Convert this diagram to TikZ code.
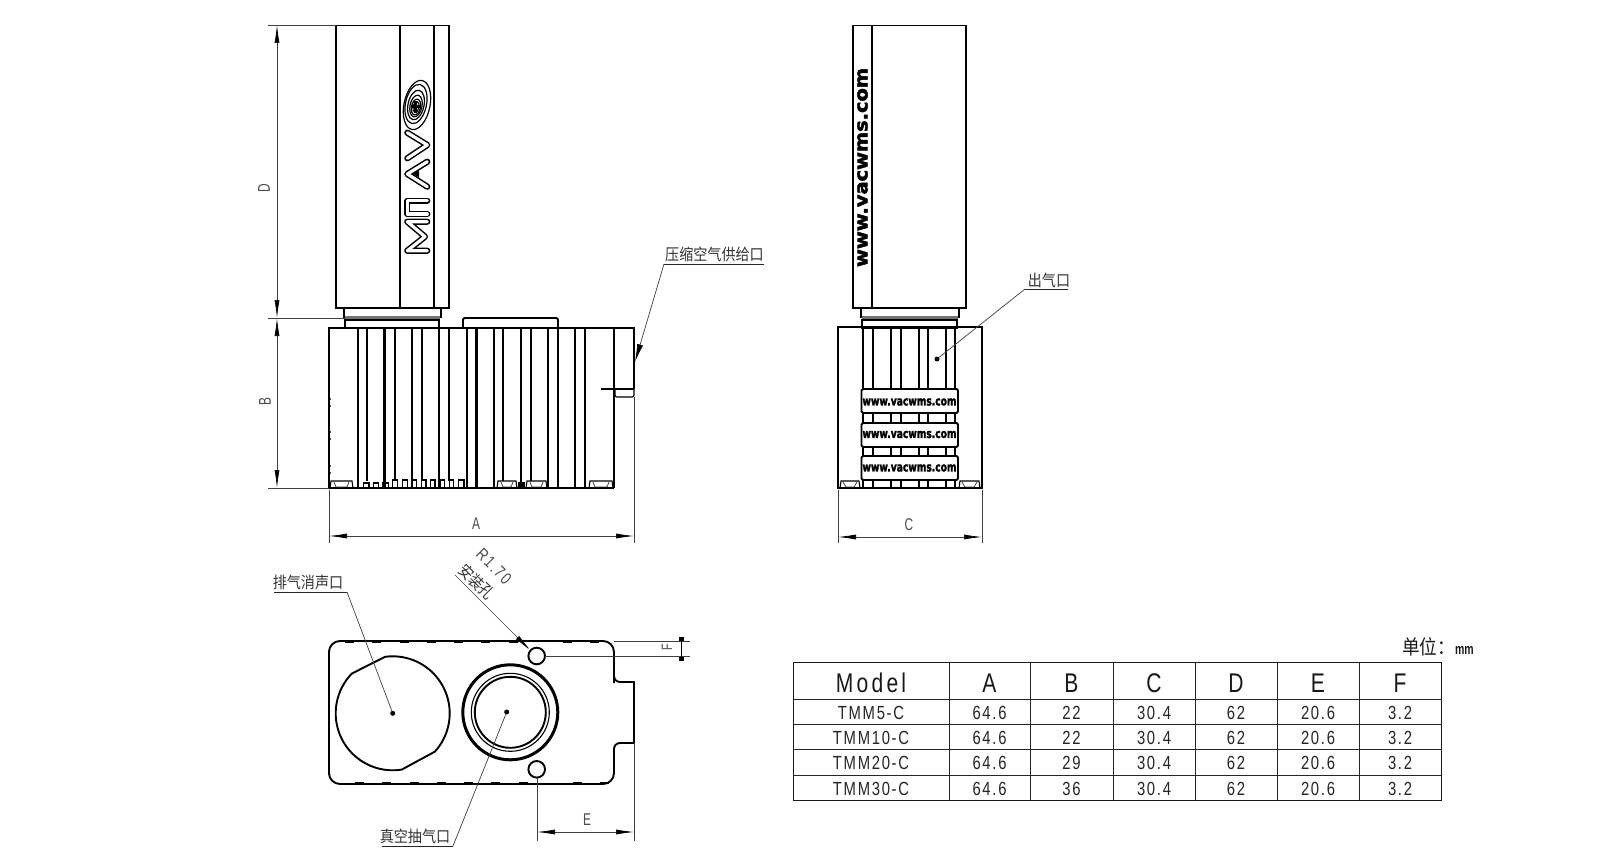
\documentclass[tikz,border=0pt]{standalone}
\usepackage{fontspec}
\usepackage{graphicx}
\usetikzlibrary{arrows.meta}
\setmainfont{Liberation Sans}
\newfontfamily\cjk[FakeStretch=0.88]{Noto Sans CJK SC}
\newfontfamily\tabfont[FakeStretch=0.78,LetterSpace=9]{Liberation Sans}
\newfontfamily\headfont[FakeStretch=0.78,LetterSpace=12]{Liberation Sans}
\newfontfamily\dimfont[FakeStretch=0.7]{Liberation Sans}
\newfontfamily\webfont[BoldFeatures={FakeBold=2.5}]{DejaVu Sans}
\newcommand\fs[1]{\fontsize{#1}{#1}\selectfont}
\newcommand\webtext[2]{\resizebox{#1pt}{#2pt}{\webfont\bfseries www.vacwms.com}}
\tikzset{
  ol/.style={line width=1.9pt,black},
  olthick/.style={line width=2.8pt,black},
  olthin/.style={line width=1.1pt,black},
  ext/.style={line width=.7pt,black!75},
  dimln/.style={line width=.7pt,black!75,{Latex[length=18pt,width=5pt,black]}-{Latex[length=18pt,width=5pt,black]}},
  lead/.style={line width=.7pt,black!75},
  under/.style={line width=1pt,black!85},
  dimlabel/.style={font=\dimfont\fs{17},text=black!70,inner sep=0pt},
  cjklabel/.style={font=\cjk\fs{16},text=black!80,inner sep=0pt},
  tabcell/.style={font=\tabfont\fs{19},text=black!85,inner sep=0pt},
  tabhead/.style={font=\headfont\fs{27},text=black!90,inner sep=0pt},
  dotn/.style={circle,fill=black,inner sep=0pt,minimum size=5pt},
  logo/.style={line width=1.2pt,black},
  logoletterA/.style={line width=6.2pt,black,line join=round,line cap=round},
  logoletterB/.style={line width=3.2pt,white,line join=round,line cap=round}
}
\begin{document}
\begin{tikzpicture}[x=1pt,y=-1pt]
\useasboundingbox (0,0) rectangle (1600,859);
\fill[white] (0,0) rectangle (1600,859);

%% ===== FRONT VIEW, upper block
\draw[ol] (336,25.5) rectangle (449,308);
\draw[ol] (400,25.5) -- (400,308);
\draw[ol] (434,25.5) -- (434,308);
% logo
\foreach \a/\b/\c/\d in {417/105/13/25, 416/104/10.5/20, 416/105/8/15, 416/106/6/11, 416/107/4.5/8, 416/107/3/5.5}
  \draw[logo,rotate around={-12:(\a,\b)}] (\a,\b) ellipse [x radius=\c, y radius=\d];
\fill[black] (414,101) rectangle (417,113);
\fill[black] (411,105) rectangle (421,108);
% logo letters
\foreach \st in {logoletterA,logoletterB}{
  \draw[\st] (407.3,132.7) -- (427.3,145) -- (407.3,158.3);
  \draw[\st] (427.3,161.7) -- (407.3,174) -- (427.3,186.7);
  \draw[\st] (427.3,200.7) -- (407.3,200.7) -- (407.3,214) -- (427.3,214);
  \draw[\st] (427.3,221.7) -- (407.3,221.7) -- (425,236.7) -- (407.3,250.7) -- (427.3,250.7);
}
\fill[black] (413,174) -- (419,170.5) -- (419,177.5) -- cycle;

% collars
\draw[ol] (344,308) rectangle (441,317);
\fill[black!55] (345,315.5) rectangle (440,318.5);
\draw[ol] (345,320) rectangle (439,328);
\draw[ol] (463,328) -- (463,320) [rounded corners=2pt] -- (463,318) -- (558,318) -- (558,328);

%% ===== FRONT VIEW, body
\foreach \x in {357.7,384.7,412,439.3,466.7,476.3,494,521,548.3,558,575.3,585.3}
  \draw[ol] (\x,328) -- (\x,488);
\foreach \x in {367.3,395,421.7,449.3,503.3,531.3}
  \draw[ol] (\x,328) -- (\x,481);
\draw[olthick] (384.7,328) -- (384.7,488);
\draw[olthick] (476.3,328) -- (476.3,488);
\draw[olthick] (521,328) -- (521,488);
\draw[olthin] (614,328) -- (614,488);
\draw[ol] (329,488) -- (329,328) -- (634,328) -- (634,362);
\draw[ol] (329,488) -- (614,488);
\draw[olthin] (634,362) -- (634,389);
% feed stub
\draw[ol] (601,389) -- (634,389);
\draw[olthin] (615,389) -- (615,395) [rounded corners=2pt] -- (615,397) -- (634,397) -- (634,389);
% left-edge ticks
\foreach \y in {398,405,431,438,465,472}
  \fill[black!70] (329.5,\y) rectangle (331,\y+1.5);
% feet
\foreach \a/\b in {329/354,496/518,525/548,588/614}{
  \draw[olthin] (\a+1,488) -- (\a+2,481) -- (\b-2,481) -- (\b-1,488);
  \draw[line width=.7pt,black!80] (\a+5,482) -- (\a+7,487) -- (\b-7,487) -- (\b-5,482);
}
\fill[black] (518,482) rectangle (525,488);
% teeth
\foreach \a/\b/\t in {363.3/369/483,373.3/378.3/483,382.7/388.3/483,392.3/397.3/480,402.3/407.3/480,412/416.7/480,421.7/426/480,430.7/435/480,440/444.3/480,449.3/453.7/480,458.3/464/480}
  \draw[olthin] (\a,488) -- (\a,\t) -- (\b,\t) -- (\b,488);

%% ===== RIGHT VIEW, upper block
\draw[ol] (853,25.5) rectangle (966,308);
\draw[ol] (872,25.5) -- (872,308);
\node[inner sep=0pt,rotate=90] (webside) at (862.5,167.5) {\webtext{199}{10}};
% collars
\draw[ol] (861,308) rectangle (959,317);
\fill[black!55] (862,315.5) rectangle (958,318.5);
\draw[ol] (862,320) rectangle (957,328);

%% ===== RIGHT VIEW, body
\draw[ol] (838,327) rectangle (982,488);
\foreach \x in {873,891,901,919,928,946}
  \draw[ol] (\x,327) -- (\x,488);
\draw[olthick] (863,327) -- (863,488);
\draw[olthick] (955,327) -- (955,488);
\foreach \n/\a/\b/\m in {a/389/413/402,b/423/447/434.5,c/456/480/468}{
  \draw[ol,fill=white,rounded corners=1.5pt] (861.5,\a) rectangle (958,\b);
  \node[inner sep=0pt] (band\n) at (909.5,\m) {\webtext{94}{7}};
}
\foreach \a/\b in {840/860,959/980}{
  \draw[olthin] (\a,488) -- (\a+1,481) -- (\b-1,481) -- (\b,488);
  \draw[line width=.7pt,black!80] (\a+3,482) -- (\a+6,487) -- (\b-6,487) -- (\b-3,482);
}

%% ===== PLAN VIEW
\draw[ol] (329,712) [rounded corners=11pt] -- (329,641) -- (614,641) -- (614,672)
  [rounded corners=6pt] -- (614,682) [sharp corners] -- (634,682) -- (634,743)
  [rounded corners=6pt] -- (614,743) [rounded corners=11pt] -- (614,784) -- (329,784) [sharp corners] -- cycle;
\draw[line width=2.6pt] (329,650) -- (329,775);
\draw[line width=2.6pt] (634,683) -- (634,743);
\foreach \x in {345,372,400,427,454,481,509,563,590}{
  \draw[ol] (\x,642) -- (\x+9,642);
  \draw[ol] (\x+10,783) -- (\x+19,783);
}
% muffler port
\draw[ol] plot[domain=262.3:402.2,samples=40] ({392.7+57*cos(\x)},{713.3+57*sin(\x)})
  -- plot[domain=80.8:224.3,samples=40] ({392.7+57*cos(\x)},{713.3+57*sin(\x)}) -- cycle;
% vacuum port
\draw[line width=3pt] (510.3,712.3) circle [radius=47.5];
\draw[olthin] (510.3,712.3) circle [radius=39];
\draw[ol] (510.3,712.3) circle [radius=35.5];
% holes
\draw[ol] (536.7,656) circle [radius=8.3];
\draw[ol] (536.7,769.3) circle [radius=8.3];

%% ===== DIMENSIONS
\coordinate (dT) at (268,25);   \coordinate (dTe) at (336,25);
\coordinate (dM) at (268,318);  \coordinate (dMe) at (345,318);
\coordinate (dB) at (268,488);  \coordinate (dBe) at (329,488);
\draw[ext] (dT) -- (dTe); \draw[ext] (dM) -- (dMe); \draw[ext] (dB) -- (dBe);
\coordinate (D1) at (277,25); \coordinate (D2) at (277,318); \coordinate (B2) at (277,488);
\draw[dimln] (D1) -- (D2);
\draw[dimln] (D2) -- (B2);
\node[dimlabel,rotate=90] (lD) at (264,188) {D};
\node[dimlabel,rotate=90] (lB) at (265,402) {B};
% A
\coordinate (A1t) at (329,490); \coordinate (A1b) at (329,543);
\coordinate (A2t) at (634,397); \coordinate (A2b) at (634,543);
\coordinate (A1) at (329,536); \coordinate (A2) at (634,536);
\draw[ext] (A1t) -- (A1b); \draw[ext] (A2t) -- (A2b);
\draw[dimln] (A1) -- (A2);
\node[dimlabel] (lA) at (476,524) {A};
% C
\coordinate (C1t) at (838,490); \coordinate (C1b) at (838,543);
\coordinate (C2t) at (982,490); \coordinate (C2b) at (982,543);
\coordinate (C1) at (838,537); \coordinate (C2) at (982,537);
\draw[ext] (C1t) -- (C1b); \draw[ext] (C2t) -- (C2b);
\draw[dimln] (C1) -- (C2);
\node[dimlabel] (lC) at (909,525) {C};
% E
\coordinate (E1t) at (537,778); \coordinate (E1b) at (537,841);
\coordinate (E2t) at (634,743); \coordinate (E2b) at (634,841);
\coordinate (E1) at (537,832); \coordinate (E2) at (634,832);
\draw[ext] (E1t) -- (E1b); \draw[ext] (E2t) -- (E2b);
\draw[dimln] (E1) -- (E2);
\node[dimlabel] (lE) at (587,820) {E};
% F
\coordinate (F1s) at (614,641); \coordinate (F1e) at (690,641);
\coordinate (F2s) at (545,656); \coordinate (F2e) at (690,656);
\coordinate (F1) at (681.7,636.5); \coordinate (F2) at (681.7,661);
\draw[ext] (F1s) -- (F1e); \draw[ext] (F2s) -- (F2e);
\draw[line width=1.2pt] (F1) -- (F2);
\fill[black] (679.2,636.5) rectangle (684.2,641);
\fill[black] (679.2,656.5) rectangle (684.2,661);
\node[dimlabel,rotate=90,font=\dimfont\fs{15}] (lF) at (667,647) {F};

%% ===== LEADERS AND CALLOUTS
% supply port
\node[cjklabel] (tSupply) at (714.5,254) {压缩空气供给口};
\coordinate (sU1) at (764,264); \coordinate (sU2) at (664,264); \coordinate (sTip) at (635,362);
\draw[under] (sU1) -- (sU2);
\draw[lead,-{Latex[length=18pt,width=6pt,black]}] (sU2) -- (sTip);
% outlet
\node[cjklabel] (tOut) at (1049,280) {出气口};
\node[dotn] (dOut) at (937,359) {};
\coordinate (oU1) at (1068,289); \coordinate (oU2) at (1025,289);
\draw[under] (oU1) -- (oU2);
\draw[lead] (oU2) -- (dOut);
% exhaust
\node[cjklabel] (tExh) at (308,582) {排气消声口};
\node[dotn] (dExh) at (392.7,713.3) {};
\coordinate (eU1) at (274,592); \coordinate (eU2) at (347,592);
\draw[under] (eU1) -- (eU2);
\draw[lead] (eU2) -- (dExh);
% vacuum
\node[cjklabel] (tVac) at (415,836) {真空抽气口};
\node[dotn] (dVac) at (506.7,712) {};
\coordinate (vU1) at (382,846); \coordinate (vU2) at (453,846);
\draw[under] (vU1) -- (vU2);
\draw[lead] (vU2) -- (dVac);
% mounting hole
\node[cjklabel,rotate=-45] (tHole) at (476.7,581.7) {安装孔};
\node[dimlabel,rotate=-45,font=\tabfont\fs{17}] (tR) at (494,566.5) {R1.70};
\coordinate (hS) at (455,575); \coordinate (hE) at (531.7,651.7);
\draw[lead,-{Latex[length=20pt,width=4.5pt,black]}] (hS) -- (hE);

%% ===== TABLE
\node[anchor=east,inner sep=0pt,text=black!90] (unit) at (1474,647) {{\cjk\fs{20}单位：}{\dimfont\bfseries\fs{15}mm}};
\draw[line width=1pt,black!90] (793,662) rectangle (1441,800);
\foreach \y in {699,724,749,775}
  \draw[line width=1pt,black!85] (793,\y) -- (1441,\y);
\foreach \x in {949,1030,1113,1195,1277,1359}
  \draw[line width=1pt,black!85] (\x,662) -- (\x,800);
\foreach \n/\x/\t in {0/871/Model,1/989.5/A,2/1071.5/B,3/1154/C,4/1236/D,5/1318/E,6/1400/F}
  \node[tabhead] (h\n) at (\x,683) {\t};
\foreach \r/\y/\m/\bb in {1/713/TMM5-C/22,2/738/TMM10-C/22,3/763/TMM20-C/29,4/788.5/TMM30-C/36}{
  \node[tabcell] (m\r) at (871,\y) {\m};
  \node[tabcell] (a\r) at (989.5,\y) {64.6};
  \node[tabcell] (b\r) at (1071.5,\y) {\bb};
  \node[tabcell] (c\r) at (1154,\y) {30.4};
  \node[tabcell] (d\r) at (1236,\y) {62};
  \node[tabcell] (e\r) at (1318,\y) {20.6};
  \node[tabcell] (f\r) at (1400,\y) {3.2};
}
\end{tikzpicture}
\end{document}
